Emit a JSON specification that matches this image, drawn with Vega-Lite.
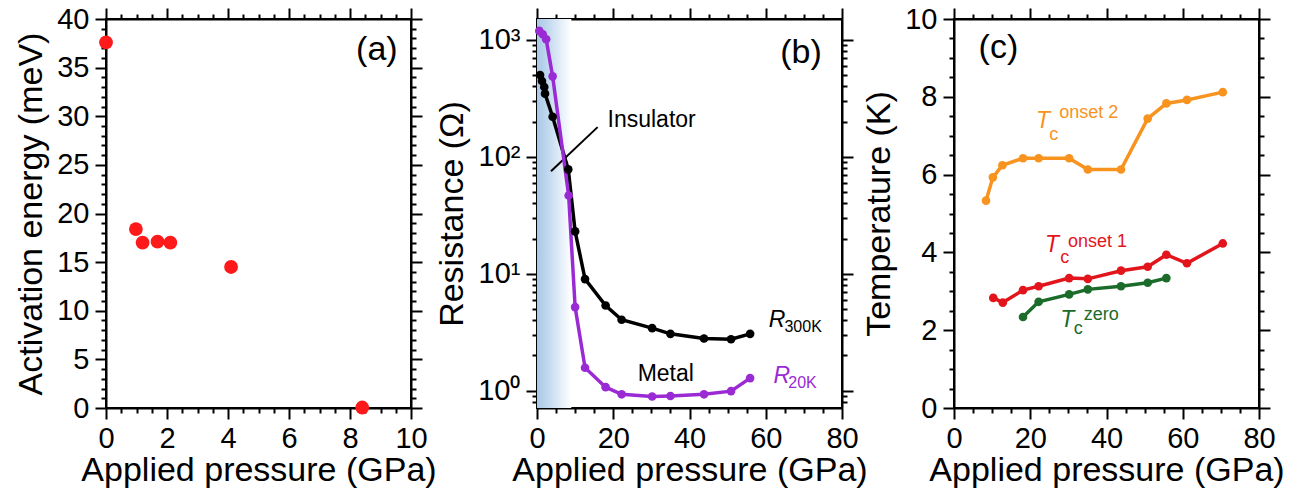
{
  "$schema": "https://vega.github.io/schema/vega-lite/v6.json",
  "padding": {"left": 13, "top": 4, "right": 5, "bottom": 5},
  "background": "white",
  "config": {
    "font": "Liberation Sans",
    "view": {"stroke": "black", "strokeWidth": 2},
    "axis": {"grid": false, "domainColor": "black", "domainWidth": 2, "tickColor": "black", "tickWidth": 2, "labelFontSize": 29, "titleFontSize": 34, "titleFontWeight": "normal", "labelColor": "black", "titleColor": "black", "labelFont": "Liberation Sans", "titleFont": "Liberation Sans", "labelOverlap": false, "labelFlush": false, "labelPadding": 6, "titlePadding": 8},
    "axisBottom": {"titlePadding": 0, "labelPadding": 5},
    "text": {"font": "Liberation Sans"}
  },
  "bounds": "flush",
  "spacing": 126,
  "resolve": {"scale": {"color": "independent"}},
  "hconcat": [
    {
      "width": 305, "height": 389,
      "data": {"values": [{"p": 0, "E": 37.6}, {"p": 0.98, "E": 18.4}, {"p": 1.2, "E": 17.0}, {"p": 1.69, "E": 17.1}, {"p": 2.11, "E": 17.0}, {"p": 4.1, "E": 14.5}, {"p": 8.4, "E": 0.05}]},
      "layer": [
        {
          "mark": {"type": "circle", "size": 190, "opacity": 1, "color": "#fe1a1a"},
          "encoding": {
            "x": {"field": "p", "type": "quantitative", "scale": {"domain": [0, 10], "nice": false},
              "axis": {"orient": "bottom", "title": "Applied pressure (GPa)", "values": [0,0.5,1,1.5,2,2.5,3,3.5,4,4.5,5,5.5,6,6.5,7,7.5,8,8.5,9,9.5,10], "labelExpr": "datum.value % 2 === 0 ? '' + datum.value : ''", "tickSize": {"condition": {"test": "datum.value % 2 === 0", "value": 11}, "value": 5}}},
            "y": {"field": "E", "type": "quantitative", "scale": {"domain": [0, 40], "nice": false},
              "axis": {"orient": "left", "title": "Activation energy (meV)", "values": [0,1,2,3,4,5,6,7,8,9,10,11,12,13,14,15,16,17,18,19,20,21,22,23,24,25,26,27,28,29,30,31,32,33,34,35,36,37,38,39,40], "labelExpr": "datum.value % 5 === 0 ? '' + datum.value : ''", "tickSize": {"condition": {"test": "datum.value % 5 === 0", "value": 11}, "value": 5}}}
          }
        },
        {
          "mark": {"type": "point", "opacity": 0},
          "encoding": {
            "x": {"field": "p", "type": "quantitative",
              "axis": {"orient": "top", "title": null, "labels": false, "values": [0,0.5,1,1.5,2,2.5,3,3.5,4,4.5,5,5.5,6,6.5,7,7.5,8,8.5,9,9.5,10], "tickSize": {"condition": {"test": "datum.value % 2 === 0", "value": 11}, "value": 5}}},
            "y": {"field": "E", "type": "quantitative",
              "axis": {"orient": "right", "title": null, "labels": false, "values": [0,1,2,3,4,5,6,7,8,9,10,11,12,13,14,15,16,17,18,19,20,21,22,23,24,25,26,27,28,29,30,31,32,33,34,35,36,37,38,39,40], "tickSize": {"condition": {"test": "datum.value % 5 === 0", "value": 11}, "value": 5}}}
          }
        },
        {
          "data": {"values": [{"p": 8.2, "E": 35.8, "t": "(a)"}]},
          "mark": {"type": "text", "fontSize": 34, "align": "left", "baseline": "alphabetic", "color": "black"},
          "encoding": {
            "x": {"field": "p", "type": "quantitative", "axis": null},
            "y": {"field": "E", "type": "quantitative", "axis": null},
            "text": {"field": "t"}
          }
        }
      ],
      "resolve": {"axis": {"x": "independent", "y": "independent"}}
    },
    {
      "bounds": "flush",
      "spacing": 112,
      "resolve": {"scale": {"color": "independent"}},
      "hconcat": [
        {
          "width": 305, "height": 389,
          "layer": [
            {
              "data": {"values": [{"p0": 0, "p1": 9.0}]},
              "mark": {"type": "rect", "fill": {"gradient": "linear", "x1": 0, "x2": 1, "y1": 0, "y2": 0, "stops": [{"offset": 0, "color": "#a9c8e6"}, {"offset": 0.3, "color": "#c0d7ee"}, {"offset": 0.7, "color": "#e4eef8"}, {"offset": 1, "color": "#ffffff"}]}},
              "encoding": {
                "x": {"field": "p0", "type": "quantitative", "axis": null},
                "x2": {"field": "p1"}
              }
            },
            {
              "data": {"values": [{"p": 3.67, "R": 75.4}, {"p": 15.9, "R": 179.5}]},
              "mark": {"type": "line", "color": "black", "strokeWidth": 2},
              "encoding": {
                "x": {"field": "p", "type": "quantitative", "axis": null},
                "y": {"field": "R", "type": "quantitative", "scale": {"type": "log", "domain": [0.71, 1510], "nice": false}, "axis": null}
              }
            },
            {
              "data": {"name": "res"},
              "mark": {"type": "line", "strokeWidth": 3.5},
              "encoding": {
                "x": {"field": "p", "type": "quantitative", "scale": {"domain": [0, 80], "nice": false},
                  "axis": {"orient": "bottom", "title": "Applied pressure (GPa)", "values": [0,5,10,15,20,25,30,35,40,45,50,55,60,65,70,75,80], "labelExpr": "datum.value % 20 === 0 ? '' + datum.value : ''", "tickSize": {"condition": {"test": "datum.value % 20 === 0", "value": 11}, "value": 5}}},
                "y": {"field": "R", "type": "quantitative", "scale": {"type": "log", "domain": [0.71, 1510], "nice": false},
                  "axis": {"orient": "left", "title": "Resistance (Ω)", "values": [0.8,0.9,1,2,3,4,5,6,7,8,9,10,20,30,40,50,60,70,80,90,100,200,300,400,500,600,700,800,900,1000], "labelExpr": "datum.value === 1 ? '10⁰' : datum.value === 10 ? '10¹' : datum.value === 100 ? '10²' : datum.value === 1000 ? '10³' : ''", "tickSize": {"condition": {"test": "indexof([1,10,100,1000], datum.value) >= 0", "value": 11}, "value": 5}}},
                "color": {"field": "s", "type": "nominal", "scale": {"domain": ["R300K", "R20K"], "range": ["#000000", "#9a2bd4"]}, "legend": null}
              }
            },
            {
              "data": {"name": "res"},
              "mark": {"type": "circle", "size": 75, "opacity": 1},
              "encoding": {
                "x": {"field": "p", "type": "quantitative", "axis": null},
                "y": {"field": "R", "type": "quantitative", "scale": {"type": "log", "domain": [0.71, 1510], "nice": false}, "axis": null},
                "color": {"field": "s", "type": "nominal", "scale": {"domain": ["R300K", "R20K"], "range": ["#000000", "#9a2bd4"]}, "legend": null}
              }
            },
            {
              "data": {"name": "res"},
              "mark": {"type": "point", "opacity": 0},
              "encoding": {
                "x": {"field": "p", "type": "quantitative",
                  "axis": {"orient": "top", "title": null, "labels": false, "values": [0,5,10,15,20,25,30,35,40,45,50,55,60,65,70,75,80], "tickSize": {"condition": {"test": "datum.value % 20 === 0", "value": 11}, "value": 5}}},
                "y": {"field": "R", "type": "quantitative", "scale": {"type": "log", "domain": [0.71, 1510], "nice": false},
                  "axis": {"orient": "right", "title": null, "labels": false, "values": [0.8,0.9,1,2,3,4,5,6,7,8,9,10,20,30,40,50,60,70,80,90,100,200,300,400,500,600,700,800,900,1000], "tickSize": {"condition": {"test": "indexof([1,10,100,1000], datum.value) >= 0", "value": 11}, "value": 5}}}
              }
            },
            {
              "data": {"values": [{"p": 60.8, "R": 3.48, "t": "R", "s": "R300K"}, {"p": 62.0, "R": 1.156, "t": "R", "s": "R20K"}]},
              "mark": {"type": "text", "fontSize": 23, "fontStyle": "italic", "align": "left", "baseline": "alphabetic"},
              "encoding": {
                "x": {"field": "p", "type": "quantitative", "axis": null},
                "y": {"field": "R", "type": "quantitative", "scale": {"type": "log", "domain": [0.71, 1510], "nice": false}, "axis": null},
                "text": {"field": "t"},
                "color": {"field": "s", "type": "nominal", "scale": {"domain": ["R300K", "R20K"], "range": ["#000000", "#9a2bd4"]}, "legend": null}
              }
            },
            {
              "data": {"values": [{"p": 64.9, "R": 3.16, "t": "300K", "s": "R300K"}, {"p": 65.9, "R": 1.048, "t": "20K", "s": "R20K"}]},
              "mark": {"type": "text", "fontSize": 16, "align": "left", "baseline": "alphabetic"},
              "encoding": {
                "x": {"field": "p", "type": "quantitative", "axis": null},
                "y": {"field": "R", "type": "quantitative", "scale": {"type": "log", "domain": [0.71, 1510], "nice": false}, "axis": null},
                "text": {"field": "t"},
                "color": {"field": "s", "type": "nominal", "scale": {"domain": ["R300K", "R20K"], "range": ["#000000", "#9a2bd4"]}, "legend": null}
              }
            },
            {
              "data": {"values": [{"p": 18.5, "R": 179.5, "t": "Insulator"}, {"p": 26.4, "R": 1.197, "t": "Metal"}]},
              "mark": {"type": "text", "fontSize": 23, "align": "left", "baseline": "alphabetic", "color": "black"},
              "encoding": {
                "x": {"field": "p", "type": "quantitative", "axis": null},
                "y": {"field": "R", "type": "quantitative", "scale": {"type": "log", "domain": [0.71, 1510], "nice": false}, "axis": null},
                "text": {"field": "t"}
              }
            },
            {
              "data": {"values": [{"p": 63.8, "R": 640, "t": "(b)"}]},
              "mark": {"type": "text", "fontSize": 34, "align": "left", "baseline": "alphabetic", "color": "black"},
              "encoding": {
                "x": {"field": "p", "type": "quantitative", "axis": null},
                "y": {"field": "R", "type": "quantitative", "scale": {"type": "log", "domain": [0.71, 1510], "nice": false}, "axis": null},
                "text": {"field": "t"}
              }
            }
          ],
          "resolve": {"axis": {"x": "independent", "y": "independent"}}
        },
        {
          "width": 305, "height": 389,
          "layer": [
            {
              "data": {"name": "tc"},
              "mark": {"type": "line", "strokeWidth": 3.5},
              "encoding": {
                "x": {"field": "p", "type": "quantitative", "scale": {"domain": [0, 80], "nice": false},
                  "axis": {"orient": "bottom", "title": "Applied pressure (GPa)", "values": [0,5,10,15,20,25,30,35,40,45,50,55,60,65,70,75,80], "labelExpr": "datum.value % 20 === 0 ? '' + datum.value : ''", "tickSize": {"condition": {"test": "datum.value % 20 === 0", "value": 11}, "value": 5}}},
                "y": {"field": "T", "type": "quantitative", "scale": {"domain": [0, 10], "nice": false},
                  "axis": {"orient": "left", "title": "Temperature (K)", "values": [0,0.5,1,1.5,2,2.5,3,3.5,4,4.5,5,5.5,6,6.5,7,7.5,8,8.5,9,9.5,10], "labelExpr": "datum.value % 2 === 0 ? '' + datum.value : ''", "tickSize": {"condition": {"test": "datum.value % 2 === 0", "value": 11}, "value": 5}}},
                "color": {"field": "s", "type": "nominal", "scale": {"domain": ["onset2", "onset1", "zero"], "range": ["#f7931e", "#e3151c", "#1b6b2b"]}, "legend": null},
                "detail": {"field": "s"}
              }
            },
            {
              "data": {"name": "tc"},
              "mark": {"type": "circle", "size": 75, "opacity": 1},
              "encoding": {
                "x": {"field": "p", "type": "quantitative", "axis": null},
                "y": {"field": "T", "type": "quantitative", "axis": null},
                "color": {"field": "s", "type": "nominal", "scale": {"domain": ["onset2", "onset1", "zero"], "range": ["#f7931e", "#e3151c", "#1b6b2b"]}, "legend": null}
              }
            },
            {
              "data": {"name": "tc"},
              "mark": {"type": "point", "opacity": 0},
              "encoding": {
                "x": {"field": "p", "type": "quantitative",
                  "axis": {"orient": "top", "title": null, "labels": false, "values": [0,5,10,15,20,25,30,35,40,45,50,55,60,65,70,75,80], "tickSize": {"condition": {"test": "datum.value % 20 === 0", "value": 11}, "value": 5}}},
                "y": {"field": "T", "type": "quantitative",
                  "axis": {"orient": "right", "title": null, "labels": false, "values": [0,0.5,1,1.5,2,2.5,3,3.5,4,4.5,5,5.5,6,6.5,7,7.5,8,8.5,9,9.5,10], "tickSize": {"condition": {"test": "datum.value % 2 === 0", "value": 11}, "value": 5}}}
              }
            },
            {
              "data": {"values": [{"p": 21.5, "T": 7.19, "t": "T", "s": "onset2"}, {"p": 23.9, "T": 4.0, "t": "T", "s": "onset1"}, {"p": 27.9, "T": 2.08, "t": "T", "s": "zero"}]},
              "mark": {"type": "text", "fontSize": 23, "fontStyle": "italic", "align": "left", "baseline": "alphabetic"},
              "encoding": {
                "x": {"field": "p", "type": "quantitative", "axis": null},
                "y": {"field": "T", "type": "quantitative", "axis": null},
                "text": {"field": "t"},
                "color": {"field": "s", "type": "nominal", "scale": {"domain": ["onset2", "onset1", "zero"], "range": ["#f7931e", "#e3151c", "#1b6b2b"]}, "legend": null}
              }
            },
            {
              "data": {"values": [{"p": 25.0, "T": 6.89, "t": "c", "s": "onset2"}, {"p": 27.9, "T": 3.74, "t": "c", "s": "onset1"}, {"p": 31.4, "T": 1.91, "t": "c", "s": "zero"}, {"p": 27.6, "T": 7.46, "t": "onset 2", "s": "onset2"}, {"p": 29.9, "T": 4.14, "t": "onset 1", "s": "onset1"}, {"p": 34.0, "T": 2.26, "t": "zero", "s": "zero"}]},
              "mark": {"type": "text", "fontSize": 18, "align": "left", "baseline": "alphabetic"},
              "encoding": {
                "x": {"field": "p", "type": "quantitative", "axis": null},
                "y": {"field": "T", "type": "quantitative", "axis": null},
                "text": {"field": "t"},
                "color": {"field": "s", "type": "nominal", "scale": {"domain": ["onset2", "onset1", "zero"], "range": ["#f7931e", "#e3151c", "#1b6b2b"]}, "legend": null}
              }
            },
            {
              "data": {"values": [{"p": 6.45, "T": 8.99, "t": "(c)"}]},
              "mark": {"type": "text", "fontSize": 34, "align": "left", "baseline": "alphabetic", "color": "black"},
              "encoding": {
                "x": {"field": "p", "type": "quantitative", "axis": null},
                "y": {"field": "T", "type": "quantitative", "axis": null},
                "text": {"field": "t"}
              }
            }
          ],
          "resolve": {"axis": {"x": "independent", "y": "independent"}}
        }
      ]
    }
  ],
  "datasets": {
    "res": [
      {"s": "R300K", "p": 0.8, "R": 501}, {"s": "R300K", "p": 1.3, "R": 445}, {"s": "R300K", "p": 1.9, "R": 396}, {"s": "R300K", "p": 2.1, "R": 347}, {"s": "R300K", "p": 4.1, "R": 220}, {"s": "R300K", "p": 8.2, "R": 78}, {"s": "R300K", "p": 10.0, "R": 23}, {"s": "R300K", "p": 12.6, "R": 9.0}, {"s": "R300K", "p": 18.0, "R": 5.35}, {"s": "R300K", "p": 22.2, "R": 4.04}, {"s": "R300K", "p": 30.2, "R": 3.42}, {"s": "R300K", "p": 35.0, "R": 3.06}, {"s": "R300K", "p": 43.8, "R": 2.79}, {"s": "R300K", "p": 50.9, "R": 2.75}, {"s": "R300K", "p": 55.9, "R": 3.06},
      {"s": "R20K", "p": 0.6, "R": 1194}, {"s": "R20K", "p": 1.5, "R": 1118}, {"s": "R20K", "p": 2.4, "R": 1013}, {"s": "R20K", "p": 4.1, "R": 488}, {"s": "R20K", "p": 8.3, "R": 46.7}, {"s": "R20K", "p": 10.0, "R": 5.18}, {"s": "R20K", "p": 12.6, "R": 1.57}, {"s": "R20K", "p": 18.0, "R": 1.07}, {"s": "R20K", "p": 22.2, "R": 0.93}, {"s": "R20K", "p": 30.2, "R": 0.89}, {"s": "R20K", "p": 35.0, "R": 0.90}, {"s": "R20K", "p": 43.8, "R": 0.93}, {"s": "R20K", "p": 50.9, "R": 0.99}, {"s": "R20K", "p": 55.9, "R": 1.28}
    ],
    "tc": [
      {"s": "onset2", "p": 8.4, "T": 5.33}, {"s": "onset2", "p": 10.2, "T": 5.93}, {"s": "onset2", "p": 12.7, "T": 6.24}, {"s": "onset2", "p": 18.1, "T": 6.42}, {"s": "onset2", "p": 22.2, "T": 6.42}, {"s": "onset2", "p": 30.2, "T": 6.42}, {"s": "onset2", "p": 35.1, "T": 6.13}, {"s": "onset2", "p": 43.8, "T": 6.13}, {"s": "onset2", "p": 50.8, "T": 7.44}, {"s": "onset2", "p": 55.7, "T": 7.83}, {"s": "onset2", "p": 61.1, "T": 7.92}, {"s": "onset2", "p": 70.5, "T": 8.12},
      {"s": "onset1", "p": 10.3, "T": 2.83}, {"s": "onset1", "p": 12.8, "T": 2.71}, {"s": "onset1", "p": 18.1, "T": 3.03}, {"s": "onset1", "p": 22.2, "T": 3.13}, {"s": "onset1", "p": 30.2, "T": 3.34}, {"s": "onset1", "p": 35.1, "T": 3.32}, {"s": "onset1", "p": 43.8, "T": 3.53}, {"s": "onset1", "p": 50.8, "T": 3.63}, {"s": "onset1", "p": 55.7, "T": 3.94}, {"s": "onset1", "p": 61.1, "T": 3.72}, {"s": "onset1", "p": 70.5, "T": 4.23},
      {"s": "zero", "p": 18.1, "T": 2.34}, {"s": "zero", "p": 22.2, "T": 2.73}, {"s": "zero", "p": 30.2, "T": 2.92}, {"s": "zero", "p": 35.1, "T": 3.05}, {"s": "zero", "p": 43.8, "T": 3.13}, {"s": "zero", "p": 50.8, "T": 3.22}, {"s": "zero", "p": 55.7, "T": 3.34}
    ]
  }
}
